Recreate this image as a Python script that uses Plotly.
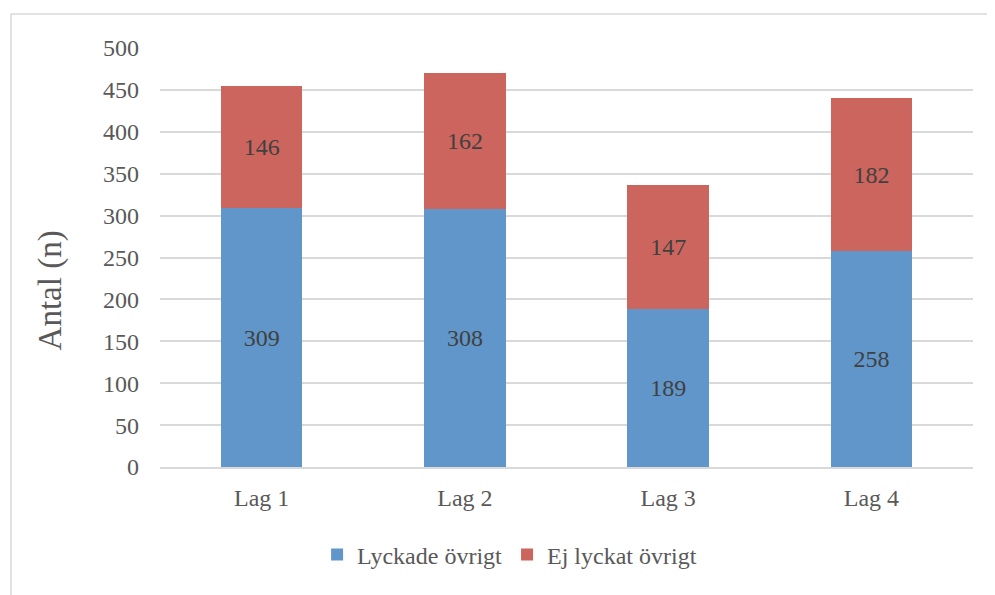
import plotly.graph_objects as go

categories = ["Lag 1", "Lag 2", "Lag 3", "Lag 4"]
lyckade = [309, 308, 189, 258]
ej_lyckat = [146, 162, 147, 182]
y_ticks = [0, 50, 100, 150, 200, 250, 300, 350, 400, 450, 500]

FONT = "Liberation Serif"
fig = go.Figure()
fig.add_trace(go.Bar(
    x=categories, y=lyckade, name="Lyckade övrigt",
    marker=dict(color="#6096c9", line=dict(width=0)),
    text=lyckade, textposition="inside", insidetextanchor="middle",
    textfont=dict(family=FONT, size=24, color="#404040"),
    constraintext="none",
))
fig.add_trace(go.Bar(
    x=categories, y=ej_lyckat, name="Ej lyckat övrigt",
    marker=dict(color="#cc655d", line=dict(width=0)),
    text=ej_lyckat, textposition="inside", insidetextanchor="middle",
    textfont=dict(family=FONT, size=24, color="#404040"),
    constraintext="none",
))

fig.update_layout(
    barmode="stack",
    bargap=0.6,
    width=987, height=587,
    margin=dict(l=152, r=22, t=40, b=128),
    paper_bgcolor="white", plot_bgcolor="white",
    font=dict(family=FONT, size=24, color="#595959"),
    legend=dict(
        orientation="h", x=0.43, y=-0.21, xanchor="center", yanchor="middle",
        font=dict(family=FONT, size=24, color="#595959"),
        itemwidth=30, tracegroupgap=0, traceorder="normal",
    ),
    showlegend=True,
)
fig.update_yaxes(
    range=[0, 500], tickvals=y_ticks, showgrid=True, gridcolor="#d9d9d9", gridwidth=1.5,
    zeroline=False, showline=False, ticks="", ticklabelstandoff=20,
    tickfont=dict(family=FONT, size=24, color="#595959"),
)
fig.update_xaxes(
    showline=True, linecolor="#d9d9d9", linewidth=1.5, ticks="", ticklabelstandoff=8,
    tickfont=dict(family=FONT, size=24, color="#595959"),
)
fig.add_annotation(
    text="Antal (n)", textangle=-90, showarrow=False,
    xref="paper", yref="paper", x=-0.135, y=0.422, xanchor="center", yanchor="middle",
    font=dict(family=FONT, size=33, color="#595959"),
)
fig.add_shape(
    type="rect", xref="paper", yref="paper",
    x0=-0.1833, x1=1.05, y0=-0.35, y1=1.081,
    line=dict(color="#d9d9d9", width=1.5), fillcolor="rgba(0,0,0,0)", layer="below",
)
fig.write_html("out.html")
